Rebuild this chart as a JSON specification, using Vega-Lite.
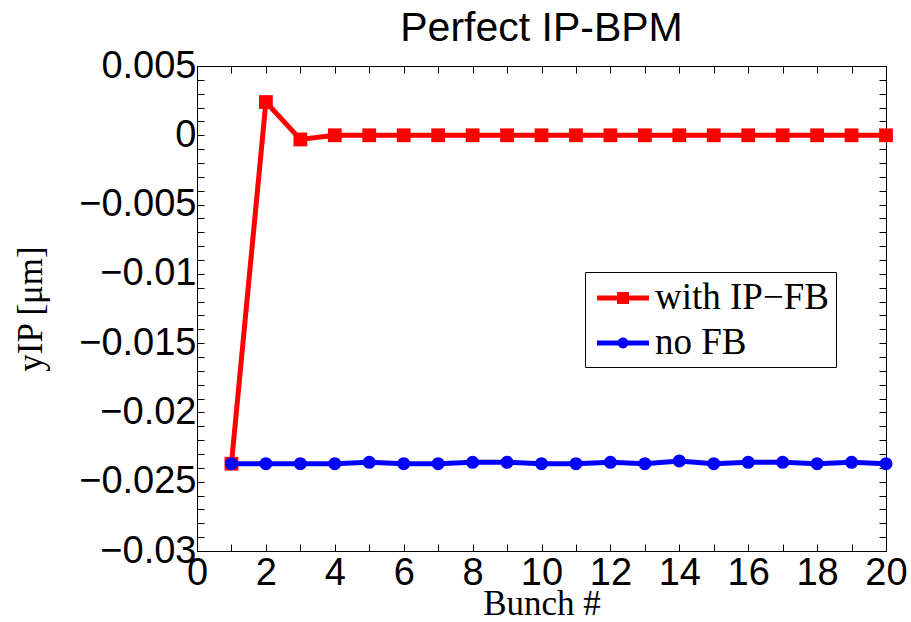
{
  "$schema": "https://vega.github.io/schema/vega-lite/v6.json",
  "width": 689,
  "height": 485,
  "autosize": {"type": "none"},
  "padding": {"left": 197, "top": 66, "right": 25, "bottom": 71},
  "background": "white",
  "title": {"text": "Perfect IP-BPM", "font": "Liberation Sans", "fontSize": 41, "fontWeight": "normal", "color": "black", "anchor": "middle", "offset": -3},
  "config": {
    "view": {"stroke": "black", "strokeWidth": 1},
    "axis": {"domainColor": "black", "tickColor": "black", "labelColor": "black", "titleColor": "black", "grid": false, "tickSize": -7, "tickWidth": 1, "labelFont": "Liberation Sans", "labelFontSize": 38, "titleFont": "Liberation Serif", "titleFontSize": 35, "titleFontWeight": "normal", "labelOverlap": false, "labelFlush": false}
  },
  "data": {"values": [
    {"bunch": 1, "y": -0.0237, "series": "with IP−FB"},
    {"bunch": 2, "y": 0.0024, "series": "with IP−FB"},
    {"bunch": 3, "y": -0.0003, "series": "with IP−FB"},
    {"bunch": 4, "y": 0.0, "series": "with IP−FB"},
    {"bunch": 5, "y": 0.0, "series": "with IP−FB"},
    {"bunch": 6, "y": 0.0, "series": "with IP−FB"},
    {"bunch": 7, "y": 0.0, "series": "with IP−FB"},
    {"bunch": 8, "y": 0.0, "series": "with IP−FB"},
    {"bunch": 9, "y": 0.0, "series": "with IP−FB"},
    {"bunch": 10, "y": 0.0, "series": "with IP−FB"},
    {"bunch": 11, "y": 0.0, "series": "with IP−FB"},
    {"bunch": 12, "y": 0.0, "series": "with IP−FB"},
    {"bunch": 13, "y": 0.0, "series": "with IP−FB"},
    {"bunch": 14, "y": 0.0, "series": "with IP−FB"},
    {"bunch": 15, "y": 0.0, "series": "with IP−FB"},
    {"bunch": 16, "y": 0.0, "series": "with IP−FB"},
    {"bunch": 17, "y": 0.0, "series": "with IP−FB"},
    {"bunch": 18, "y": 0.0, "series": "with IP−FB"},
    {"bunch": 19, "y": 0.0, "series": "with IP−FB"},
    {"bunch": 20, "y": 0.0, "series": "with IP−FB"},
    {"bunch": 1, "y": -0.0237, "series": "no FB"},
    {"bunch": 2, "y": -0.0237, "series": "no FB"},
    {"bunch": 3, "y": -0.0237, "series": "no FB"},
    {"bunch": 4, "y": -0.0237, "series": "no FB"},
    {"bunch": 5, "y": -0.0236, "series": "no FB"},
    {"bunch": 6, "y": -0.0237, "series": "no FB"},
    {"bunch": 7, "y": -0.0237, "series": "no FB"},
    {"bunch": 8, "y": -0.0236, "series": "no FB"},
    {"bunch": 9, "y": -0.0236, "series": "no FB"},
    {"bunch": 10, "y": -0.0237, "series": "no FB"},
    {"bunch": 11, "y": -0.0237, "series": "no FB"},
    {"bunch": 12, "y": -0.0236, "series": "no FB"},
    {"bunch": 13, "y": -0.0237, "series": "no FB"},
    {"bunch": 14, "y": -0.0235, "series": "no FB"},
    {"bunch": 15, "y": -0.0237, "series": "no FB"},
    {"bunch": 16, "y": -0.0236, "series": "no FB"},
    {"bunch": 17, "y": -0.0236, "series": "no FB"},
    {"bunch": 18, "y": -0.0237, "series": "no FB"},
    {"bunch": 19, "y": -0.0236, "series": "no FB"},
    {"bunch": 20, "y": -0.0237, "series": "no FB"}
  ]},
  "layer": [
    {
      "transform": [{"filter": "datum.series == 'with IP−FB'"}],
      "mark": {"type": "line", "strokeWidth": 5, "clip": false},
      "encoding": {
        "x": {"field": "bunch", "type": "quantitative", "scale": {"domain": [0, 20], "nice": false},
          "axis": {"orient": "bottom", "title": "Bunch #", "values": [0,1,2,3,4,5,6,7,8,9,10,11,12,13,14,15,16,17,18,19,20], "labelExpr": "datum.value % 2 == 0 ? datum.label : ''", "labelPadding": 10, "titlePadding": -6}},
        "y": {"field": "y", "type": "quantitative", "scale": {"domain": [-0.03, 0.005], "nice": false, "zero": false},
          "axis": {"orient": "left", "title": "yIP [μm]", "values": [-0.03,-0.029,-0.028,-0.027,-0.026,-0.025,-0.024,-0.023,-0.022,-0.021,-0.02,-0.019,-0.018,-0.017,-0.016,-0.015,-0.014,-0.013,-0.012,-0.011,-0.01,-0.009,-0.008,-0.007,-0.006,-0.005,-0.004,-0.003,-0.002,-0.001,0,0.001,0.002,0.003,0.004,0.005], "labelExpr": "abs(round(datum.value*1000)) % 5 == 0 ? format(datum.value, '~g') : ''", "labelPadding": 8, "titlePadding": 30}},
        "color": {"field": "series", "type": "nominal", "scale": {"domain": ["with IP−FB", "no FB"], "range": ["#ff0000", "#0000ff"]},
          "legend": {"title": null, "orient": "none", "legendX": 388, "legendY": 206, "strokeColor": "black", "fillColor": "white", "padding": 6, "labelFont": "Liberation Serif", "labelFontSize": 37, "labelColor": "black", "labelLimit": 400, "symbolSize": 1600, "rowPadding": 7, "labelOffset": 24,
            "encode": {"symbols": {"update": {
              "shape": {"signal": "datum.value == 'no FB' ? 'M-0.7,-0.13H1.9V0.13H-0.7Z M0.33,0A0.27,0.27 0 1,1 0.87,0A0.27,0.27 0 1,1 0.33,0Z' : 'M-0.7,-0.13H1.9V0.13H-0.7Z M0.3,-0.3H0.9V0.3H0.3Z'"},
              "fill": {"scale": "color", "field": "value"},
              "strokeWidth": {"value": 0},
              "opacity": {"value": 1}
            }}}}}
      }
    },
    {
      "transform": [{"filter": "datum.series == 'with IP−FB'"}],
      "mark": {"type": "point", "shape": "square", "filled": true, "size": 190, "opacity": 1, "clip": false},
      "encoding": {
        "x": {"field": "bunch", "type": "quantitative", "axis": null},
        "y": {"field": "y", "type": "quantitative", "axis": null},
        "color": {"field": "series", "type": "nominal", "legend": null}
      }
    },
    {
      "transform": [{"filter": "datum.series == 'no FB'"}],
      "mark": {"type": "line", "strokeWidth": 5, "clip": false},
      "encoding": {
        "x": {"field": "bunch", "type": "quantitative",
          "axis": {"orient": "top", "title": null, "values": [0,1,2,3,4,5,6,7,8,9,10,11,12,13,14,15,16,17,18,19,20], "labels": false}},
        "y": {"field": "y", "type": "quantitative",
          "axis": {"orient": "right", "title": null, "values": [-0.03,-0.029,-0.028,-0.027,-0.026,-0.025,-0.024,-0.023,-0.022,-0.021,-0.02,-0.019,-0.018,-0.017,-0.016,-0.015,-0.014,-0.013,-0.012,-0.011,-0.01,-0.009,-0.008,-0.007,-0.006,-0.005,-0.004,-0.003,-0.002,-0.001,0,0.001,0.002,0.003,0.004,0.005], "labels": false}},
        "color": {"field": "series", "type": "nominal", "legend": null}
      }
    },
    {
      "transform": [{"filter": "datum.series == 'no FB'"}],
      "mark": {"type": "point", "shape": "circle", "filled": true, "size": 170, "opacity": 1, "clip": false},
      "encoding": {
        "x": {"field": "bunch", "type": "quantitative", "axis": null},
        "y": {"field": "y", "type": "quantitative", "axis": null},
        "color": {"field": "series", "type": "nominal", "legend": null}
      }
    }
  ],
  "resolve": {"axis": {"x": "independent", "y": "independent"}}
}
